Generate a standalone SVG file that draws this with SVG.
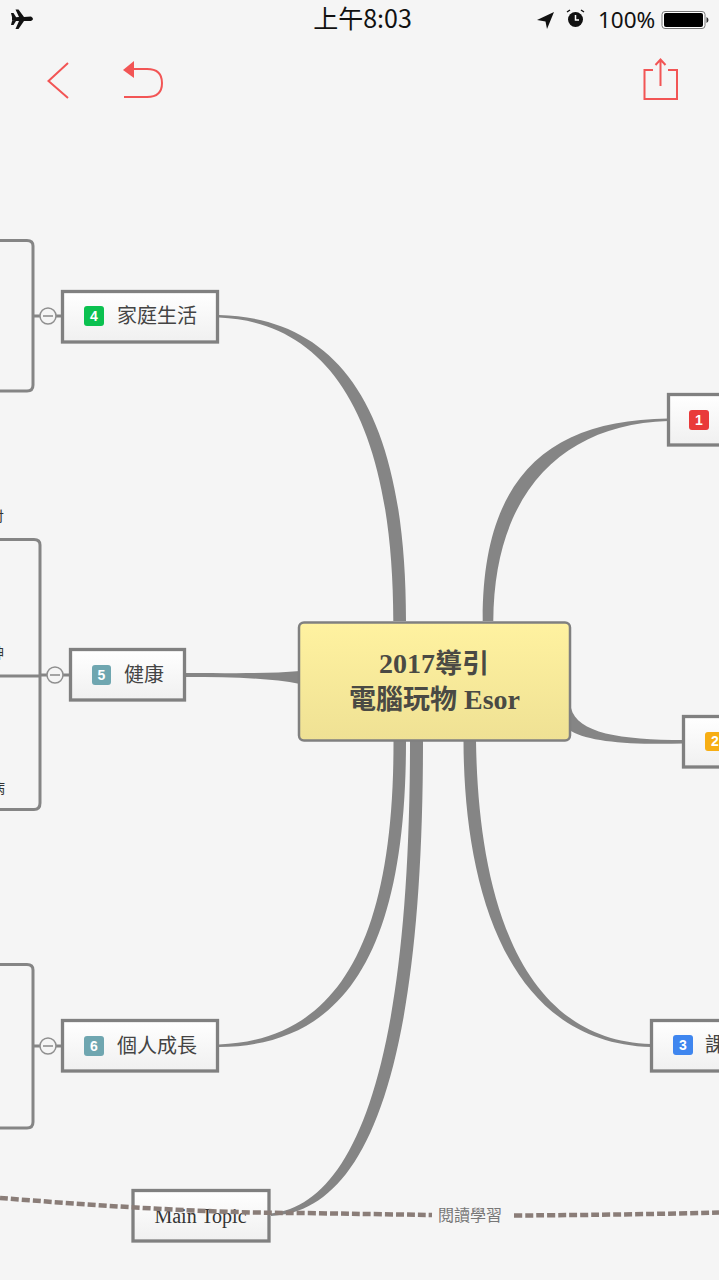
<svg xmlns="http://www.w3.org/2000/svg" width="719" height="1280" viewBox="0 0 719 1280">
<style>
.cn{fill:#858585;stroke:none}
.br{fill:none;stroke:#858585;stroke-width:3}
.box{fill:url(#w);stroke:#808080;stroke-width:3.3}
.t{font-family:"Noto Sans CJK TC","Noto Sans",sans-serif;font-size:20px;fill:#444}
.bn{font-family:"Liberation Sans",Arial,sans-serif;font-size:14px;font-weight:700;fill:#fff;text-anchor:middle}
.ic{fill:none;stroke:#f25555;stroke-width:2}
.col{fill:#f5f5f5;stroke:#8f8f8f;stroke-width:1.5}
.cut{font-family:"Noto Sans CJK TC",sans-serif;font-size:14px;fill:#333}
</style>
<defs>
<linearGradient id="w" x1="0" y1="0" x2="0" y2="1"><stop offset="0" stop-color="#fff"/><stop offset="1" stop-color="#f0f0f0"/></linearGradient>
<linearGradient id="y" x1="0" y1="0" x2="0" y2="1"><stop offset="0" stop-color="#fff2a0"/><stop offset="1" stop-color="#efe194"/></linearGradient>
</defs>
<rect width="719" height="1280" fill="#f5f5f5"/>
<g id="status">
<path d="M12 17.5 L19 17 L15.5 9.5 L18.5 9.5 L24 17 L31 16.5 Q35 19 31 21 L24 21 L18.5 29 L15.5 29 L19 21 L12 20.5 Z M11 13 L13.5 13 L16 17 L16 21 L13.5 25 L11 25 L12.500 19 Z" fill="#111"/>
<text x="362.500" y="28" text-anchor="middle" font-family="'Noto Sans CJK TC',sans-serif" font-size="25" fill="#111">上午8:03</text>
<path d="M537 20 L554 12 L547 29 L545.500 21.500 Z" fill="#111"/>
<circle cx="575.500" cy="19.500" r="7.500" fill="#111"/><path d="M575.500 15V20H579" stroke="#fff" stroke-width="1.500" fill="none"/><path d="M567 12l3-2M584 12l-3-2" stroke="#111" stroke-width="1.500"/>
<text x="598" y="28" font-family="'Noto Sans','Liberation Sans',sans-serif" font-size="22.500" fill="#111">100%</text>
<rect x="662" y="11.500" width="43" height="17" rx="3" fill="#fff" stroke="#777"/><rect x="664" y="13" width="39" height="14" rx="2" fill="#000"/><path d="M706.500 17v6q2-1 2-3t-2-3z" fill="#333"/>
</g>
<g id="toolbar">
<path class="ic" d="M68 63 L48.500 81 L68 98" stroke-width="2.500"/>
<path d="M123 70 L134 61 L134 78 Z" fill="#f25555"/>
<path class="ic" d="M134 69 H147 Q162 69 162 83 Q162 97 147 97 H124"/>
<path class="ic" d="M653 70 H644.500 V99 H677 V70 H668 M660.500 86 V60 M655.500 65 L660.500 59.500 L665.500 65"/>
</g>
<g id="connectors">
<path class="cn" d="M219 315 C340 318 406 410 406 621 L393.300 621 C393 420 330 322 219 317.500 Z"/>
<path class="cn" d="M186 673 C230 673 270 674 300 671 L300 684 C270 678 230 677 186 677 Z"/>
<path class="cn" d="M668 418.500 C550 420 482 475 482.700 621 L493.300 621 C494 490 565 424 668 421 Z"/>
<path class="cn" d="M571 708 C577 733 620 740 684 740 L684 743.500 C630 745 590 742 571 731 Z"/>
<path class="cn" d="M651 1044 C512 1040 478 880 476 741 L463.500 741 C464 885 505 1043 651 1047 Z"/>
<path class="cn" d="M219 1044.500 C330 1040 394 955 393.500 741 L406 741 C406 960 340 1046 219 1047 Z"/>
<path class="cn" d="M271 1213.500 C350 1205 410 1080 410 741 L423 741 C423 1090 360 1212 271 1216 Z"/>
<path class="br" d="M0 240.500 H27 Q33 240.500 33 246 V385 Q33 391 27 391 H0 M33 316 H62"/>
<path class="br" d="M0 539.500 H34 Q40 539.500 40 545 V803 Q40 809.500 34 809.500 H0 M0 676 H38 Q40 676 41 675 H70"/>
<path class="br" d="M0 964.500 H27 Q33 964.500 33 970 V1122 Q33 1128 27 1128 H0 M33 1046 H62"/>
</g>
<g id="topic-4"><rect class="box" x="62.500" y="291.500" width="155" height="50.500"/><rect x="84" y="306" width="20" height="20" rx="3" fill="#0bc150"/><text class="bn" x="94" y="321">4</text><text class="t" x="117" y="323">家庭生活</text></g>
<g id="collapse-4"><circle class="col" cx="48" cy="316" r="8"/><path d="M43 316H53" stroke="#888" stroke-width="1.500"/></g>
<g id="topic-5"><rect class="box" x="70.500" y="649.500" width="114" height="50.500"/><rect x="92" y="665" width="19" height="20" rx="3" fill="#6fa6b0"/><text class="bn" x="101.500" y="680">5</text><text class="t" x="124" y="682">健康</text></g>
<g id="collapse-5"><circle class="col" cx="55" cy="675" r="8"/><path d="M50 675H60" stroke="#888" stroke-width="1.500"/></g>
<g id="topic-6"><rect class="box" x="62.500" y="1020.500" width="155" height="50.500"/><rect x="84" y="1036" width="20" height="20" rx="3" fill="#6fa6b0"/><text class="bn" x="94" y="1051">6</text><text class="t" x="117" y="1053">個人成長</text></g>
<g id="collapse-6"><circle class="col" cx="48" cy="1046" r="8"/><path d="M43 1046H53" stroke="#888" stroke-width="1.500"/></g>
<g id="topic-1"><rect class="box" x="668.500" y="394.500" width="60" height="50.500"/><rect x="689" y="410" width="20" height="20" rx="3" fill="#e93a3a"/><text class="bn" x="699" y="425">1</text></g>
<g id="topic-2"><rect class="box" x="683.500" y="716.500" width="60" height="50.500"/><rect x="705" y="732" width="20" height="19" rx="3" fill="#f7ae14"/><text class="bn" x="715" y="746">2</text></g>
<g id="topic-3"><rect class="box" x="651.500" y="1020.500" width="80" height="50.500"/><rect x="673" y="1035" width="20" height="20" rx="3" fill="#3f86ef"/><text class="bn" x="683" y="1050">3</text><text class="t" x="705" y="1052">課</text></g>
<g id="central"><rect x="299" y="622.500" width="271" height="118" rx="5" fill="url(#y)" stroke="#808080" stroke-width="2.500"/>
<text x="434" y="673" text-anchor="middle" font-family="'Liberation Serif','Noto Sans CJK TC',serif" font-size="28" font-weight="700" fill="#4a4a44">2017<tspan font-family="'Noto Sans CJK TC',sans-serif" font-size="27">導引</tspan></text>
<text x="434.500" y="709" text-anchor="middle" font-family="'Liberation Serif','Noto Sans CJK TC',serif" font-size="28" font-weight="700" fill="#4a4a44"><tspan font-family="'Noto Sans CJK TC',sans-serif" font-size="27">電腦玩物</tspan> Esor</text></g>
<g id="main-topic"><rect class="box" x="133" y="1190.500" width="136" height="50.500"/><text x="200.500" y="1223" text-anchor="middle" font-family="'Liberation Serif',serif" font-size="20" fill="#333">Main Topic</text></g>
<g id="boundary">
<path d="M0 1198 C90 1205 200 1213 300 1213 Q370 1214 432 1215" fill="none" stroke="#8a7d78" stroke-width="4.500" stroke-dasharray="8 3"/>
<path d="M514 1215.500 C600 1215 660 1214 719 1212.500" fill="none" stroke="#8a7d78" stroke-width="4.500" stroke-dasharray="8 3"/>
<text x="470" y="1221" text-anchor="middle" font-family="'Noto Sans CJK TC',sans-serif" font-size="16" fill="#777">閱讀學習</text>
</g>
<g id="cut-labels"><text class="cut" x="-10" y="521">付</text><text class="cut" x="-10" y="658">神</text><text class="cut" x="-9" y="793">病</text></g>
</svg>
